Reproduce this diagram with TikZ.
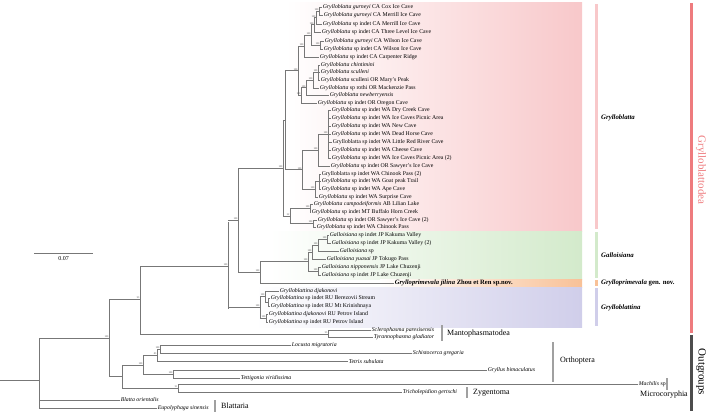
\documentclass[tikz,border=0pt]{standalone}
\usepackage{fontspec}
\setmainfont{Liberation Serif}
\definecolor{pinkc}{HTML}{F8C8CA}
\definecolor{greenc}{HTML}{D3EACB}
\definecolor{orangec}{HTML}{F8C197}
\definecolor{lavc}{HTML}{D0CEEA}
\definecolor{redc}{HTML}{EE7B7E}
\definecolor{outc}{HTML}{4D4D4D}
\definecolor{brc}{HTML}{777777}
\definecolor{barc}{HTML}{A0A0A0}
\newcommand\lf[5]{\coordinate (#1s) at (#2,#4); \node[lab] (#1) at (#3,#4) {#5}; \draw[br] (#1s) -- (#1.west);}
\newcommand\nd[6]{\draw[br] (#4,#5) -- (#1,#5); \draw[br] (#1,#2) -- (#1,#3); \node[bsl] at (#1,#5) {#6};}
\begin{document}
\begin{tikzpicture}[x=1pt,y=-1pt,
 br/.style={draw=brc, line width=0.75pt},
 lab/.style={font=\fontsize{5.8}{6.5}\selectfont, inner sep=0.6pt, anchor=west},
 bsl/.style={font=\fontsize{2.6}{3}\selectfont, inner sep=0.3pt, anchor=south east, text=black!70},
 grp/.style={font=\fontsize{8}{9}\selectfont, anchor=west, inner sep=0pt},
 gen/.style={font=\fontsize{6.8}{8}\selectfont\bfseries\itshape, anchor=west, inner sep=0pt},
 gbar/.style={draw=barc, line width=2.4pt},
 ]
\useasboundingbox (0,0) rectangle (709,413);
% background shading
\shade[left color=white, right color=pinkc] (286,2.5) rectangle (582,231);
\shade[left color=white, right color=greenc] (270,231) rectangle (582,279);
\shade[left color=white, right color=orangec] (380,279) rectangle (582,287);
\shade[left color=white, right color=lavc] (255,287) rectangle (582,327);
% inner bars
\draw[pinkc, line width=3pt] (596,4) -- (596,229);
\draw[greenc, line width=3pt] (596,232) -- (596,278);
\draw[orangec, line width=3pt] (596,280) -- (596,286);
\draw[lavc, line width=3pt] (596,288) -- (596,326);
\draw[redc, line width=3pt] (691,3) -- (691,333);
\draw[outc, line width=3pt] (691,335) -- (691,411);
\node[rotate=-90, font=\fontsize{11}{12}\selectfont, text=redc] (gl) at (701,170) {Grylloblattodea};
\node[rotate=-90, font=\fontsize{11}{12}\selectfont] (og) at (701,372) {Outgroups};
\node[gen] (g1) at (601,118) {Grylloblatta};
\node[gen] (g2) at (601,255) {Galloisiana};
\node[gen] (g3) at (601,283) {Grylloprimevala \textup{gen. nov.}};
\node[gen] (g4) at (601,308) {Grylloblattina};
% scale bar
\draw[br] (34,253) -- (93,253);
\node[font=\fontsize{6}{7}\selectfont] (sc) at (63.5,258.5) {0.07};
% backbone
\draw[br] (0,380) -- (39,380); \draw[br] (39,338) -- (39,408);
\nd{109}{299}{376.5}{39}{338}{100}
\nd{140}{266}{334}{109}{299}{93}
\nd{228}{222}{309}{140}{266}{100}
% Mantophasmatodea
\nd{328}{330}{337}{140}{334}{95}
\lf{scl}{328}{371}{330}{\textit{Sclerophasma paresisensis}}
\lf{tyr}{328}{373}{337}{\textit{Tyrannophasma gladiator}}
% Orthoptera etc
\nd{122}{365}{388}{109}{376.5}{}
\nd{143}{355}{374}{122}{365}{100}
\nd{157}{349}{361.5}{143}{355}{83}
\nd{160}{345}{353}{157}{349}{100}
\lf{loc}{160}{291}{345}{\textit{Locusta migratoria}}
\lf{sch}{160}{412}{353}{\textit{Schistocerca gregaria}}
\lf{tet}{157}{348}{361.5}{\textit{Tetrix subulata}}
\nd{173}{370}{378}{143}{374}{100}
\lf{gry}{173}{487}{370}{\textit{Gryllus bimaculatus}}
\lf{tett}{173}{240}{378}{\textit{Tettigonia viridissima}}
\nd{178}{384}{392.5}{122}{388}{91}
\lf{mac}{178}{638}{384}{\textit{Machilis} sp}
\lf{tri}{178}{402}{392.5}{\textit{Tricholepidion gertschi}}
\lf{bla}{39}{120}{400}{\textit{Blatta orientalis}}
\lf{eup}{39}{157}{408}{\textit{Eupolyphaga sinensis}}
% group bars
\draw[gbar] (442,325) -- (442,341); \node[grp] (mt) at (447,334) {Mantophasmatodea};
\draw[gbar] (553,342) -- (553,382); \node[grp] (or) at (560,361) {Orthoptera};
\draw[gbar] (467,387) -- (467,398); \node[grp] (zy) at (473,393) {Zygentoma};
\draw[gbar] (667,378) -- (667,390); \node[grp, anchor=north] (mi) at (664,391) {Microcoryphia};
\draw[gbar] (215,400) -- (215,412); \node[grp] (bt) at (221,406) {Blattaria};
% Grylloblattodea
\nd{238}{168}{272}{228}{220}{100}
% Grylloblattina
\nd{260}{296.5}{318}{228}{307}{100}
\nd{265}{291}{302}{260}{296.5}{100}
\lf{gb1}{265}{279}{291}{\textit{Grylloblattina djakonovi}}
\nd{268}{298.5}{306}{265}{302}{}
\lf{gb2}{268}{270}{298.5}{\textit{Grylloblattina} sp indet RU Berezovii Stream}
\lf{gb3}{268}{270}{306}{\textit{Grylloblattina} sp indet RU Mt Krinishnaya}
\nd{266}{314}{322}{260}{318}{100}
\lf{gb4}{266}{268}{314}{\textit{Grylloblattina djakonovi} RU Petrov Island}
\lf{gb5}{266}{268}{322}{\textit{Grylloblattina} sp indet RU Petrov Island}
% Galloisiana + Grylloprimevala
\nd{260}{261.5}{283}{238}{272}{100}
\lf{gp}{260}{394}{283}{\fontsize{6.6}{7}\selectfont\bfseries\textit{Grylloprimevala jilina} Zhou et Ren sp.nov.}
\nd{308}{252}{271}{260}{261.5}{100}
\nd{312}{245}{259}{308}{252}{100}
\nd{318}{239}{251}{312}{245}{100}
\nd{327}{235}{243}{318}{239}{100}
\lf{ga1}{327}{329}{235}{\textit{Galloisiana} sp indet JP Kakuma Valley}
\lf{ga2}{327}{331}{243}{\textit{Galloisiana} sp indet JP Kakuma Valley (2)}
\lf{ga3}{318}{339}{251}{\textit{Galloisiana} sp}
\lf{ga4}{312}{326}{259}{\textit{Galloisiana yuasai} JP Tokugo Pass}
\nd{318}{267}{275}{308}{271}{100}
\lf{ga5}{318}{321}{267}{\textit{Galloisiana nipponensis} JP Lake Chuzenji}
\lf{ga6}{318}{321}{275}{\textit{Galloisiana} sp indet JP Lake Chuzenji}
% Grylloblatta
\nd{283}{120}{216}{238}{168}{100}
\nd{285}{70.7}{169.6}{283}{120}{}
\nd{298}{46}{95.3}{285}{70.7}{100}
\nd{304}{35}{57}{298}{46}{100}
\nd{311}{24.8}{45.25}{304}{35}{100}
\nd{314}{17.6}{32}{311}{24.8}{100}
\nd{316}{11.25}{24}{314}{17.6}{100}
\nd{319}{7}{15.5}{316}{11.25}{100}
\lf{t1}{319}{322}{7}{\textit{Grylloblatta gurneyi} CA Cox Ice Cave}
\lf{t2}{319}{323}{15.5}{\textit{Grylloblatta gurneyi} CA Merrill Ice Cave}
\lf{t3}{316}{322}{24}{\textit{Grylloblatta} sp indet CA Merrill Ice Cave}
\lf{t4}{314}{321}{32}{\textit{Grylloblatta} sp indet CA Three Level Ice Cave}
\nd{320}{41.5}{49}{311}{45.25}{100}
\lf{t5}{320}{324}{41.5}{\textit{Grylloblatta gurneyi} CA Wilson Ice Cave}
\lf{t6}{320}{323}{49}{\textit{Grylloblatta} sp indet CA Wilson Ice Cave}
\lf{t7}{304}{319}{57}{\textit{Grylloblatta} sp indet CA Carpenter Ridge}
\nd{301}{87.6}{103}{298}{95.3}{100}
\nd{306}{80.25}{95}{301}{87.6}{100}
\nd{313}{72.5}{88}{306}{80.25}{100}
\nd{318}{65}{80}{313}{72.5}{100}
\lf{t8}{318}{320}{65}{\textit{Grylloblatta chintimini}}
\lf{t9}{318}{320}{72.5}{\textit{Grylloblatta sculleni}}
\lf{t10}{318}{320}{80}{\textit{Grylloblatta} sculleni OR Mary's Peak}
\lf{t11}{313}{319}{88}{\textit{Grylloblatta} sp rothi OR Mackenzie Pass}
\lf{t12}{306}{329}{95}{\textit{Grylloblatta newberryensis}}
\lf{t13}{301}{317}{103}{\textit{Grylloblatta} sp indet OR Oregon Cave}
\nd{302}{150}{189}{285}{169.6}{100}
\nd{318}{134.5}{166}{302}{150}{100}
\nd{328}{110.5}{158}{318}{134.5}{100}
\lf{t14}{328}{331}{110.5}{\textit{Grylloblatta} sp indet WA Dry Creek Cave}
\lf{t15}{328}{331}{118}{\textit{Grylloblatta} sp indet WA Ice Caves Picnic Area}
\lf{t16}{328}{331}{126}{\textit{Grylloblatta} sp indet WA New Cave}
\lf{t17}{328}{331}{134}{\textit{Grylloblatta} sp indet WA Dead Horse Cave}
\lf{t18}{328}{332}{142}{Grylloblatta sp indet WA Little Red River Cave}
\lf{t19}{328}{331}{150}{\textit{Grylloblatta} sp indet WA Cheese Cave}
\lf{t20}{328}{331}{158}{\textit{Grylloblatta} sp indet WA Ice Caves Picnic Area (2)}
\lf{t21}{318}{330}{166}{\textit{Grylloblatta} sp indet OR Sawyer's Ice Cave}
\nd{315}{181.5}{197}{302}{189}{100}
\nd{319}{174}{189}{315}{181.5}{}
\lf{t22}{319}{321}{174}{Grylloblatta sp indet WA Chinook Pass (2)}
\lf{t23}{319}{321}{181.5}{\textit{Grylloblatta} sp indet WA Goat peak Trail}
\lf{t24}{319}{321}{189}{\textit{Grylloblatta} sp indet WA Ape Cave}
\lf{t25}{315}{318}{197}{\textit{Grylloblatta} sp indet WA Surprise Cave}
\nd{290}{208.25}{223.5}{283}{216}{52}
\nd{310}{204.5}{212}{290}{208.25}{100}
\lf{t26}{310}{313}{204.5}{\textit{Grylloblatta campodeiformis} AB Lilian Lake}
\lf{t27}{310}{311}{212}{\textit{Grylloblatta} sp indet MT Buffalo Horn Creek}
\nd{313}{220}{227}{290}{223.5}{100}
\lf{t28}{313}{317}{220}{\textit{Grylloblatta} sp indet OR Sawyer's Ice Cave (2)}
\lf{t29}{313}{316}{227}{\textit{Grylloblatta} sp indet WA Chinook Pass}
\end{tikzpicture}
\end{document}
